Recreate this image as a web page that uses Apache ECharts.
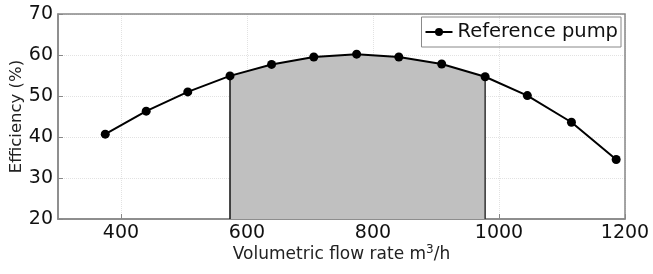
<!DOCTYPE html>
<html><head><meta charset="utf-8">
<script src="https://cdn.jsdelivr.net/npm/echarts@6/dist/echarts.min.js"></script>
<style>html,body{margin:0;padding:0;background:#fff}#c{width:653px;height:274px}</style>
</head><body><div id="c"></div>
<script>
const flowRate = [375, 440, 506, 573, 639, 706, 774, 841, 909, 978, 1045, 1115, 1186];
const efficiency = [40.7, 46.3, 51.0, 54.9, 57.7, 59.5, 60.2, 59.5, 57.8, 54.7, 50.1, 43.6, 34.5];
const shadeStart = 3, shadeEnd = 9;
const xTicks = [400, 600, 800, 1000, 1200];
const yTicks = [20, 30, 40, 50, 60, 70];
const seriesName = 'Reference pump';

const pts = flowRate.map((x, i) => [x, efficiency[i]]);
const shaded = pts.slice(shadeStart, shadeEnd + 1);
const yMin = yTicks[0];
const leftEdge = [[flowRate[shadeStart], yMin], [flowRate[shadeStart], efficiency[shadeStart]]];
const rightEdge = [[flowRate[shadeEnd], yMin], [flowRate[shadeEnd], efficiency[shadeEnd]]];

const font = 'DejaVu Sans, sans-serif';
const chart = echarts.init(document.getElementById('c'));
chart.setOption({
  animation: false,
  grid: {left: 58, right: 28, top: 14, bottom: 55, containLabel: false, outerBoundsMode: 'none'},
  xAxis: {
    type: 'value', min: 300, max: 1200, interval: 100,
    name: 'Volumetric flow rate m{sup|3}/h', nameLocation: 'middle', nameGap: 25, nameMoveOverlap: false,
    nameTextStyle: {fontFamily: font, fontSize: 17, color: '#222',
      rich: {sup: {fontFamily: font, fontSize: 12, color: '#222', verticalAlign: 'top', padding: [0, 0, 9, 0]}}},
    axisLine: {show: true, onZero: false, lineStyle: {color: '#888', width: 1.5}},
    axisTick: {show: true, inside: true, length: 5, lineStyle: {color: '#888'}, customValues: xTicks},
    axisLabel: {fontFamily: font, fontSize: 19, color: '#111', margin: 5, customValues: xTicks,
      formatter: v => String(v)},
    splitLine: {show: true, lineStyle: {color: '#e2e2e2', type: 'dotted'}}
  },
  yAxis: {
    type: 'value', min: 20, max: 70, interval: 10,
    name: 'Efficiency (%)', nameLocation: 'middle', nameGap: 33, nameMoveOverlap: false,
    nameTextStyle: {fontFamily: font, fontSize: 16.5, color: '#222'},
    axisLine: {show: true, lineStyle: {color: '#888', width: 1.5}},
    axisTick: {show: true, inside: true, length: 5, lineStyle: {color: '#888'}},
    axisLabel: {fontFamily: font, fontSize: 19, color: '#111', margin: 5, formatter: v => String(v)},
    splitLine: {show: true, lineStyle: {color: '#e2e2e2', type: 'dotted'}}
  },
  legend: {
    show: true, data: [seriesName], right: 32, top: 17,
    borderColor: '#888', borderWidth: 1, padding: [5, 3, 5, 3],
    itemWidth: 27, itemHeight: 10, itemGap: 3,
    textStyle: {fontFamily: font, fontSize: 19.5, color: '#111'}
  },
  series: [
    {type: 'line', name: 'shade', data: shaded, symbol: 'none', silent: true,
      lineStyle: {width: 0}, areaStyle: {color: '#c0c0c0', opacity: 1, origin: 'start'}, z: 1},
    {type: 'line', name: 'edgeL', data: leftEdge, symbol: 'none', silent: true,
      lineStyle: {color: '#111', width: 1.5}, z: 2},
    {type: 'line', name: 'edgeR', data: rightEdge, symbol: 'none', silent: true,
      lineStyle: {color: '#333', width: 1.5}, z: 2},
    {type: 'line', name: seriesName, data: pts, symbol: 'circle', symbolSize: 9,
      itemStyle: {color: '#000'}, lineStyle: {color: '#000', width: 2}, z: 3}
  ]
});
chart.setOption({
  graphic: [{type: 'rect', shape: {x: 58, y: 14, width: 653 - 58 - 28, height: 274 - 14 - 55},
    style: {fill: 'none', stroke: '#888', lineWidth: 1.5}, silent: true, z: 0}]
});
</script></body></html>
